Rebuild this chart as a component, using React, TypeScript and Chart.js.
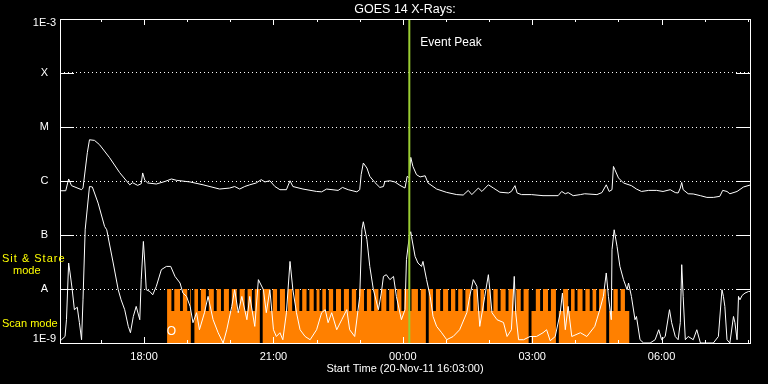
import { useEffect, useRef } from 'react';
import { Chart, registerables } from 'chart.js';

Chart.register(...registerables);

const TITLE = 'GOES 14 X-Rays:';
const X_TITLE = 'Start Time (20-Nov-11 16:03:00)';

// x axis: minutes since 16:03
const X_MIN = 0;
const X_MAX = 960;
const X_TICK_MINUTES = [117, 297, 477, 657, 837];
const X_TICK_LABELS = ['18:00', '21:00', '00:00', '03:00', '06:00'];
const HOUR_MINUTES = [57, 117, 177, 237, 297, 357, 417, 477, 537, 597, 657, 717, 777, 837, 897, 957];

const Y_TICK_VALUES = [1e-9, 1e-8, 1e-7, 1e-6, 1e-5, 1e-4, 1e-3];
const Y_TICK_LABELS = ['1E-9', 'A', 'B', 'C', 'M', 'X', '1E-3'];

const EVENT_PEAK_MIN = 486;

// [minute, flux W/m^2] — long channel (1-8 A)
const LONG_CHANNEL: [number, number][] = [
  [0, 6.6e-7], [8, 6.6e-7], [12, 1.09e-6], [16, 8.2e-7], [30, 6.9e-7], [32, 7.4e-7], [38, 3.34e-6], [41, 5.8e-6],
  [48, 5.65e-6], [55, 4.7e-6], [69, 2.7e-6], [83, 1.43e-6], [97, 8.5e-7], [101, 9.3e-7], [108, 8.3e-7], [113, 8.9e-7],
  [115, 1.41e-6], [118, 1.03e-6], [122, 9.2e-7], [134, 8.8e-7], [146, 9.8e-7], [155, 1.09e-6], [162, 1.03e-6], [181, 9.6e-7],
  [199, 8.5e-7], [222, 7.1e-7], [236, 7.4e-7], [243, 7.9e-7], [250, 7.1e-7], [257, 7.9e-7], [264, 8.5e-7], [273, 9.2e-7],
  [280, 1.06e-6], [285, 9.6e-7], [292, 1.01e-6], [299, 7.9e-7], [306, 6.9e-7], [315, 6.9e-7], [320, 1.01e-6], [324, 7.9e-7],
  [338, 7.1e-7], [357, 6.4e-7], [364, 6.3e-7], [371, 7.1e-7], [387, 6.7e-7], [393, 7.6e-7], [401, 6.9e-7], [413, 6.3e-7],
  [417, 6.9e-7], [419, 1.31e-6], [422, 2.15e-6], [427, 1.74e-6], [431, 1.22e-6], [438, 9.4e-7], [445, 7.6e-7], [450, 7.9e-7],
  [452, 9.8e-7], [459, 1.01e-6], [466, 9.6e-7], [473, 8.3e-7], [480, 7.4e-7], [483, 1.22e-6], [486, 1.14e-6], [488, 2.74e-6],
  [491, 1.86e-6], [496, 1.31e-6], [501, 1.19e-6], [508, 1.25e-6], [512, 9.2e-7], [524, 7.1e-7], [538, 6.15e-7], [552, 5.6e-7],
  [561, 5.5e-7], [568, 6.7e-7], [573, 5.6e-7], [582, 7.4e-7], [587, 6.4e-7], [596, 8.5e-7], [603, 7.4e-7], [612, 6.2e-7],
  [624, 6.0e-7], [628, 6.4e-7], [633, 8.2e-7], [636, 6.0e-7], [642, 5.6e-7], [656, 5.6e-7], [672, 5.35e-7], [693, 5.35e-7],
  [698, 6.4e-7], [703, 5.8e-7], [707, 6.1e-7], [714, 5.35e-7], [724, 5.6e-7], [730, 5.8e-7], [747, 5.6e-7], [754, 6.1e-7],
  [760, 8.5e-7], [764, 6.4e-7], [768, 6.9e-7], [770, 1.86e-6], [772, 1.62e-6], [777, 1.14e-6], [784, 9.2e-7], [795, 8.2e-7],
  [802, 7.1e-7], [809, 6.4e-7], [819, 6.7e-7], [830, 6.7e-7], [839, 6.4e-7], [849, 6.9e-7], [856, 6.1e-7], [860, 6.0e-7],
  [863, 7.4e-7], [865, 9.4e-7], [867, 6.9e-7], [874, 5.8e-7], [881, 5.75e-7], [891, 5.35e-7], [900, 4.97e-7], [909, 4.97e-7],
  [918, 5.2e-7], [922, 6.7e-7], [928, 6.4e-7], [932, 5.8e-7], [942, 6.4e-7], [951, 7.75e-7], [960, 8.4e-7],
];

// [minute, flux W/m^2] — short channel (0.5-4 A)
const SHORT_CHANNEL: [number, number][] = [
  [0, 1.15e-9], [2, 1.15e-9], [7, 1.32e-9], [9, 2.7e-9], [12, 3.03e-8], [14, 1.98e-8], [17, 9.7e-9], [20, 4.14e-9],
  [24, 4.6e-9], [27, 2.38e-9], [30, 1.15e-9], [32, 6.3e-9], [35, 1.25e-7], [41, 7.9e-7], [45, 7.75e-7], [53, 3.9e-7],
  [62, 1.44e-7], [65, 1.25e-7], [74, 3.03e-8], [81, 9.7e-9], [85, 6.3e-9], [90, 4.14e-9], [95, 2.03e-9], [98, 1.55e-9],
  [102, 3.1e-9], [106, 4.76e-9], [111, 2.7e-9], [113, 1.49e-8], [116, 7.6e-8], [118, 3.03e-8], [120, 9.7e-9], [125, 9.0e-9],
  [129, 7.8e-9], [134, 1.12e-8], [141, 2.28e-8], [148, 2.62e-8], [154, 2.62e-8], [160, 1.71e-8], [167, 1.29e-8], [171, 8.4e-9],
  [176, 7.3e-9], [181, 4.76e-9], [185, 2.38e-9], [190, 3.64e-9], [194, 1.76e-9], [201, 3.64e-9], [206, 7.3e-9], [213, 2.7e-9],
  [220, 1.55e-9], [227, 1.0e-9], [232, 1.76e-9], [239, 4.76e-9], [243, 9.7e-9], [248, 3.64e-9], [253, 7.3e-9], [260, 2.7e-9],
  [264, 7.3e-9], [271, 2.03e-9], [276, 1.49e-8], [283, 9.7e-9], [287, 3.64e-9], [292, 9.7e-9], [297, 1.76e-9], [301, 1.32e-9],
  [306, 1.55e-9], [310, 1.15e-9], [315, 3.64e-9], [320, 3.24e-8], [324, 9.7e-9], [329, 3.64e-9], [334, 1.76e-9], [341, 1.32e-9],
  [348, 1.15e-9], [357, 1.76e-9], [364, 3.64e-9], [369, 4.14e-9], [373, 2.38e-9], [378, 3.64e-9], [385, 1.76e-9], [392, 2.7e-9],
  [399, 4.14e-9], [403, 1.76e-9], [410, 1.32e-9], [417, 7.3e-9], [420, 1.25e-7], [422, 1.76e-7], [427, 8.2e-8], [431, 2.62e-8],
  [436, 9.7e-9], [443, 4.14e-9], [447, 8.4e-9], [450, 1.71e-8], [454, 1.84e-8], [459, 1.49e-8], [464, 1.71e-8], [468, 7.3e-9],
  [475, 2.7e-9], [480, 4.14e-9], [482, 3.49e-8], [486, 9.4e-8], [488, 1.15e-7], [489, 9.4e-8], [494, 4.02e-8], [498, 3.03e-8],
  [503, 2.62e-8], [505, 3.24e-8], [510, 1.49e-8], [515, 7.3e-9], [519, 3.1e-9], [524, 2.03e-9], [531, 1.55e-9], [538, 1.15e-9],
  [547, 1.32e-9], [556, 1.76e-9], [566, 3.64e-9], [570, 7.3e-9], [575, 1.49e-8], [580, 1.12e-8], [584, 2.03e-9], [591, 7.3e-9],
  [596, 1.84e-8], [601, 3.64e-9], [608, 2.7e-9], [617, 2.4e-9], [622, 1.32e-9], [628, 1.76e-9], [632, 1.71e-8], [634, 3.64e-9],
  [638, 1.15e-9], [645, 1.15e-9], [654, 1.32e-9], [663, 1.32e-9], [672, 1.55e-9], [677, 1.76e-9], [682, 1.1e-9], [689, 1.32e-9],
  [696, 3.64e-9], [699, 8.4e-9], [703, 1.76e-9], [707, 4.76e-9], [712, 1.32e-9], [724, 1.55e-9], [733, 1.32e-9], [744, 2.03e-9],
  [751, 4.14e-9], [756, 7.3e-9], [760, 1.98e-8], [763, 7.3e-9], [767, 2.7e-9], [768, 5.35e-8], [771, 1.25e-7], [775, 6.15e-8],
  [779, 2.62e-8], [784, 1.49e-8], [789, 9.7e-9], [791, 1.29e-8], [795, 7.3e-9], [800, 2.7e-9], [802, 3.1e-9], [807, 1.15e-9],
  [812, 1.0e-9], [821, 1.0e-9], [828, 1.15e-9], [833, 1.76e-9], [837, 1.15e-9], [842, 1.32e-9], [848, 4.14e-9], [851, 2.38e-9],
  [856, 1.32e-9], [860, 1.15e-9], [863, 2.38e-9], [865, 2.82e-8], [867, 7.3e-9], [870, 1.15e-9], [874, 1.32e-9], [881, 1.15e-9],
  [886, 1.76e-9], [891, 1.0e-9], [900, 1.0e-9], [909, 1.0e-9], [916, 1.32e-9], [921, 9.7e-9], [923, 7.3e-9], [925, 4.76e-9],
  [928, 1.15e-9], [932, 1.0e-9], [937, 3.1e-9], [939, 2.38e-9], [942, 1.15e-9], [944, 7.3e-9], [946, 6.3e-9], [949, 7.6e-9],
  [953, 8.4e-9], [958, 9.0e-9], [960, 9.0e-9],
];

// Instrument mode (minutes): sit & stare from MODE_START to MODE_END, with scan intervals and data gaps
const MODE_START = 149;
const MODE_END = 792;
const SCAN_INTERVALS: [number, number][] = [
  [155, 159], [167, 171], [177, 181], [192, 196], [203, 207], [214, 218], [224, 228], [235, 239], [246, 250], [257, 261],
  [267, 271], [292, 296], [302, 306], [313, 317], [323, 327], [333, 337], [343, 347], [353, 357], [361, 365], [370, 374],
  [380, 384], [391, 395], [402, 406], [412, 416], [423, 427], [433, 437], [443, 447], [454, 458], [465, 469], [475, 479],
  [485, 489], [498, 502], [519, 523], [529, 533], [540, 544], [550, 554], [560, 564], [571, 575], [581, 585], [590, 594],
  [599, 603], [609, 613], [620, 624], [631, 635], [641, 645], [656, 662], [668, 672], [679, 683], [694, 700], [707, 711],
  [716, 720], [727, 731], [737, 741], [746, 750], [764, 770], [776, 780], [786, 792],
];
const DATA_GAPS: [number, number][] = [[182, 187], [278, 282], [509, 513], [652, 656], [690, 694], [760, 764]];
const SIT_LEVEL = 1e-8;
const SCAN_LEVEL = 3.9e-9;
const OFF_LEVEL = 1e-10;

const FONT = '"Liberation Sans", Arial, sans-serif';

function buildModePoints() {
  const ivs = [
    ...SCAN_INTERVALS.map(([a, b]) => ({ a, b, lvl: SCAN_LEVEL })),
    ...DATA_GAPS.map(([a, b]) => ({ a, b, lvl: OFF_LEVEL })),
  ].sort((p, q) => p.a - q.a);
  const pts: { x: number; y: number }[] = [
    { x: X_MIN, y: OFF_LEVEL },
    { x: MODE_START, y: SIT_LEVEL },
  ];
  for (const iv of ivs) {
    pts.push({ x: iv.a, y: iv.lvl });
    pts.push({ x: iv.b, y: SIT_LEVEL });
  }
  pts.push({ x: MODE_END, y: OFF_LEVEL });
  pts.push({ x: X_MAX, y: OFF_LEVEL });
  return pts;
}

const decorPlugin = {
  id: 'goesDecor',
  afterDatasetsDraw(chart: any) {
    const { ctx, chartArea } = chart;
    const xs = chart.scales.x;
    const ys = chart.scales.y;
    const { left, right, top, bottom } = chartArea;
    ctx.save();

    // event peak line
    const ex = xs.getPixelForValue(EVENT_PEAK_MIN);
    ctx.strokeStyle = '#9acd32';
    ctx.lineWidth = 2;
    ctx.beginPath();
    ctx.moveTo(ex, top);
    ctx.lineTo(ex, bottom);
    ctx.stroke();

    ctx.strokeStyle = '#ffffff';
    ctx.lineWidth = 1;
    // frame
    ctx.strokeRect(Math.round(left) + 0.5, Math.round(top) + 0.5, Math.round(right - left), Math.round(bottom - top));
    // y tick marks
    ctx.beginPath();
    for (const v of Y_TICK_VALUES.slice(1, -1)) {
      const y = Math.round(ys.getPixelForValue(v)) + 0.5;
      ctx.moveTo(left, y);
      ctx.lineTo(left + 14, y);
      ctx.moveTo(right - 14, y);
      ctx.lineTo(right + 1, y);
    }
    // x tick marks
    for (const m of HOUR_MINUTES) {
      const x = Math.round(xs.getPixelForValue(m)) + 0.5;
      const len = X_TICK_MINUTES.includes(m) ? 6 : 3;
      ctx.moveTo(x, top);
      ctx.lineTo(x, top + len);
      ctx.moveTo(x, bottom);
      ctx.lineTo(x, bottom - len);
    }
    ctx.stroke();

    // labels
    ctx.textBaseline = 'middle';
    ctx.textAlign = 'left';
    ctx.fillStyle = '#ffffff';
    ctx.font = `12px ${FONT}`;
    ctx.fillText('Event Peak', ex + 11, top + 24);

    ctx.textAlign = 'center';
    ctx.font = `12px ${FONT}`;
    ctx.fillText('O', xs.getPixelForValue(155), ys.getPixelForValue(1.6e-9));

    const yA = ys.getPixelForValue(1e-8);
    ctx.fillStyle = '#ffff00';
    ctx.textAlign = 'left';
    ctx.font = `11px ${FONT}`;
    (ctx as any).letterSpacing = '1px';
    ctx.fillText('Sit & Stare', 2, yA - 30);
    (ctx as any).letterSpacing = '0px';
    ctx.fillText('mode', 13, yA - 18);
    ctx.fillText('Scan mode', 2, yA + 35);
    ctx.restore();
  },
};

export default function App() {
  const ref = useRef<HTMLCanvasElement | null>(null);

  useEffect(() => {
    if (!ref.current) return;
    const lastY = Y_TICK_LABELS.length - 1;
    const chart = new Chart(ref.current, {
      type: 'line',
      data: {
        datasets: [
          {
            label: '1-8 A',
            data: LONG_CHANNEL.map(([x, y]) => ({ x, y })),
            borderColor: '#ffffff',
            borderWidth: 1,
            pointRadius: 0,
            fill: false,
            tension: 0,
          },
          {
            label: '0.5-4 A',
            data: SHORT_CHANNEL.map(([x, y]) => ({ x, y })),
            borderColor: '#ffffff',
            borderWidth: 1,
            pointRadius: 0,
            fill: false,
            tension: 0,
          },
          {
            label: 'mode',
            data: buildModePoints(),
            borderColor: 'rgba(0,0,0,0)',
            borderWidth: 0,
            backgroundColor: '#ff8000',
            pointRadius: 0,
            stepped: true,
            fill: 'start',
          },
        ],
      },
      options: {
        animation: false,
        responsive: false,
        devicePixelRatio: 1,
        events: [],
        layout: { padding: { left: 0, right: 18, top: 0, bottom: 0 } },
        plugins: {
          legend: { display: false },
          tooltip: { enabled: false },
          title: {
            display: true,
            text: TITLE,
            color: '#ffffff',
            fullSize: false,
            font: { family: FONT, size: 12.5, weight: 'normal' },
            padding: { top: 2, bottom: 2 },
          },
        },
        scales: {
          x: {
            type: 'linear',
            min: X_MIN,
            max: X_MAX,
            afterBuildTicks: (s: any) => {
              s.ticks = X_TICK_MINUTES.map((v) => ({ value: v }));
            },
            afterFit: (s: any) => {
              s.height = 41;
            },
            ticks: {
              autoSkip: false,
              maxRotation: 0,
              color: '#ffffff',
              padding: 7,
              font: { family: FONT, size: 11 },
              callback: (_v: any, i: number) => X_TICK_LABELS[i],
            },
            grid: { display: false, drawTicks: false },
            border: { display: false },
            title: {
              display: true,
              text: X_TITLE,
              color: '#ffffff',
              font: { family: FONT, size: 11 },
              padding: { top: 0, bottom: 8 },
            },
          },
          y: {
            type: 'logarithmic',
            min: 1e-9,
            max: 1e-3,
            afterBuildTicks: (s: any) => {
              s.ticks = Y_TICK_VALUES.map((v) => ({ value: v }));
            },
            afterFit: (s: any) => {
              s.width = 60;
            },
            ticks: {
              autoSkip: false,
              color: '#ffffff',
              padding: 4,
              crossAlign: 'center',
              font: (c: any) =>
                c.index === 0 || c.index === lastY
                  ? { family: FONT, size: 11, lineHeight: 0.65 }
                  : { family: FONT, size: 11 },
              callback: (_v: any, i: number) =>
                i === 0 ? [Y_TICK_LABELS[i], ''] : i === lastY ? ['', Y_TICK_LABELS[i]] : Y_TICK_LABELS[i],
            },
            grid: { color: '#ffffff', lineWidth: 1, drawTicks: false },
            border: { display: false, dash: [1, 3] },
          },
        },
      },
      plugins: [decorPlugin],
    } as any);
    return () => chart.destroy();
  }, []);

  return (
    <div style={{ position: 'fixed', left: 0, top: 0, width: 768, height: 384, background: '#000' }}>
      <canvas ref={ref} width={768} height={384} style={{ display: 'block' }} />
    </div>
  );
}
